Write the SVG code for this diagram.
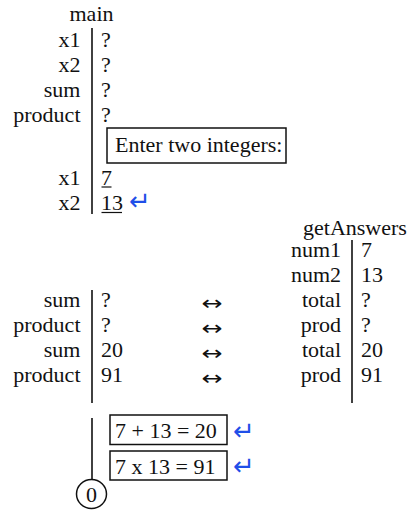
<svg xmlns="http://www.w3.org/2000/svg" width="410" height="510" viewBox="0 0 410 510">
<style>
text{font-family:'Liberation Serif','DejaVu Serif','Times New Roman',Times,serif;font-size:22px;fill:#111}
.lab{text-anchor:end}
.mid{text-anchor:middle}
.ret{font-family:'DejaVu Sans',sans-serif;font-size:26px;fill:#1f4fe8}
.arr{font-family:'DejaVu Sans',sans-serif;font-size:20px}
.bar{stroke:#111;stroke-width:1.6;fill:none}
.box{stroke:#111;stroke-width:1.5;fill:#fff}
.ul{stroke:#111;stroke-width:1.2}
</style>
<g id="main-frame">
<text class="mid" x="91.5" y="21">main</text>
<line class="bar" x1="92" y1="28" x2="92" y2="214"/>
<text class="lab" x="80.5" y="47">x1</text><text x="101" y="47">?</text>
<text class="lab" x="80.5" y="72">x2</text><text x="101" y="72">?</text>
<text class="lab" x="80.5" y="97">sum</text><text x="101" y="97">?</text>
<text class="lab" x="80.5" y="122">product</text><text x="101" y="122">?</text>
</g>
<g id="prompt">
<rect class="box" x="107" y="128" width="179" height="35"/>
<text x="115" y="152">Enter two integers:</text>
</g>
<g id="input">
<text class="lab" x="80.5" y="184.5">x1</text><text x="101" y="184.5">7</text>
<line class="ul" x1="101.5" y1="187" x2="111.5" y2="187"/>
<text class="lab" x="80.5" y="210">x2</text><text x="101" y="210">13</text>
<line class="ul" x1="101.5" y1="212.5" x2="122" y2="212.5"/>
<text class="ret" x="129" y="210">↵</text>
</g>
<g id="getAnswers-frame">
<text x="303" y="234.5">getAnswers</text>
<line class="bar" x1="352" y1="240" x2="352" y2="403"/>
<text class="lab" x="341" y="257">num1</text><text x="361" y="257">7</text>
<text class="lab" x="341" y="282">num2</text><text x="361" y="282">13</text>
<text class="lab" x="341" y="307">total</text><text x="361" y="307">?</text>
<text class="lab" x="341" y="332">prod</text><text x="361" y="332">?</text>
<text class="lab" x="341" y="357">total</text><text x="361" y="357">20</text>
<text class="lab" x="341" y="382">prod</text><text x="361" y="382">91</text>
</g>
<g id="main-shared">
<line class="bar" x1="92" y1="290" x2="92" y2="403"/>
<text class="lab" x="80.5" y="307">sum</text><text x="101" y="307">?</text>
<text class="lab" x="80.5" y="332">product</text><text x="101" y="332">?</text>
<text class="lab" x="80.5" y="357">sum</text><text x="101" y="357">20</text>
<text class="lab" x="80.5" y="382">product</text><text x="101" y="382">91</text>
</g>
<g id="connectors">
<text class="arr" x="201.5" y="310" textLength="21" lengthAdjust="spacingAndGlyphs">↔</text>
<text class="arr" x="201.5" y="335" textLength="21" lengthAdjust="spacingAndGlyphs">↔</text>
<text class="arr" x="201.5" y="360" textLength="21" lengthAdjust="spacingAndGlyphs">↔</text>
<text class="arr" x="201.5" y="385" textLength="21" lengthAdjust="spacingAndGlyphs">↔</text>
</g>
<g id="output">
<line class="bar" x1="92" y1="418" x2="92" y2="480"/>
<rect class="box" x="110" y="415" width="117" height="29.5"/>
<text x="115" y="438">7 + 13 = 20</text>
<text class="ret" x="233" y="440">↵</text>
<rect class="box" x="110" y="451" width="117" height="29"/>
<text x="115" y="473.5">7 x 13 = 91</text>
<text class="ret" x="233" y="475">↵</text>
</g>
<g id="return-value">
<ellipse class="box" cx="91.5" cy="494" rx="15" ry="14.5"/>
<text class="mid" x="91.5" y="501.5">0</text>
</g>
</svg>
